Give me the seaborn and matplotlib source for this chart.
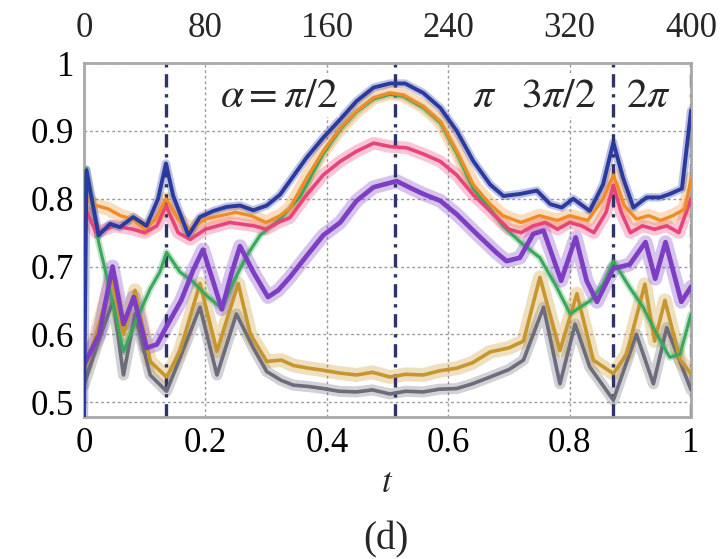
import matplotlib
matplotlib.use("Agg")
import matplotlib.pyplot as plt
import pandas as pd
import seaborn as sns

# ---- curve data (t in [0, 1]) ----
blue_t = [0.0, 0.004, 0.024, 0.043, 0.059, 0.081, 0.103, 0.122, 0.135, 0.147, 0.172, 0.191,
          0.213, 0.235, 0.257, 0.279, 0.301, 0.323, 0.339, 0.367, 0.394, 0.422, 0.449, 0.477,
          0.504, 0.529, 0.559, 0.587, 0.614, 0.641, 0.669, 0.691, 0.718, 0.746, 0.768, 0.787,
          0.806, 0.833, 0.855, 0.872, 0.888, 0.905, 0.927, 0.949, 0.965, 0.985, 1.0]
blue_v = [0.478, 0.842, 0.746, 0.763, 0.758, 0.773, 0.760, 0.800, 0.852, 0.804, 0.746, 0.773,
          0.782, 0.788, 0.790, 0.783, 0.790, 0.806, 0.826, 0.861, 0.890, 0.917, 0.944, 0.964,
          0.970, 0.970, 0.956, 0.934, 0.900, 0.856, 0.821, 0.804, 0.807, 0.812, 0.792, 0.787,
          0.800, 0.782, 0.821, 0.883, 0.831, 0.787, 0.802, 0.802, 0.807, 0.815, 0.930]

orange_t = [0.0, 0.005, 0.02, 0.04, 0.06, 0.08, 0.1, 0.118, 0.135, 0.155, 0.175, 0.2, 0.225,
            0.25, 0.275, 0.3, 0.323, 0.339, 0.367, 0.394, 0.422, 0.449, 0.477, 0.504, 0.526,
            0.559, 0.587, 0.614, 0.641, 0.669, 0.69, 0.72, 0.75, 0.78, 0.8, 0.83, 0.855, 0.872,
            0.89, 0.91, 0.93, 0.95, 0.97, 0.99, 1.0]
orange_v = [0.78, 0.80, 0.79, 0.785, 0.775, 0.77, 0.755, 0.77, 0.80, 0.77, 0.755, 0.77, 0.775,
            0.78, 0.775, 0.765, 0.775, 0.786, 0.831, 0.870, 0.904, 0.929, 0.949, 0.956, 0.953,
            0.936, 0.914, 0.870, 0.821, 0.792, 0.775, 0.765, 0.775, 0.768, 0.775, 0.768, 0.80,
            0.835, 0.79, 0.77, 0.775, 0.768, 0.775, 0.785, 0.83]

red_t = [0.0, 0.005, 0.02, 0.05, 0.08, 0.1, 0.12, 0.135, 0.155, 0.175, 0.2, 0.24, 0.28, 0.3,
         0.32, 0.339, 0.367, 0.394, 0.422, 0.449, 0.477, 0.504, 0.532, 0.559, 0.587, 0.614,
         0.641, 0.669, 0.686, 0.7, 0.72, 0.74, 0.76, 0.78, 0.8, 0.82, 0.84, 0.86, 0.872, 0.885,
         0.9, 0.92, 0.94, 0.96, 0.98, 1.0]
red_v = [0.76, 0.78, 0.75, 0.76, 0.755, 0.75, 0.76, 0.79, 0.75, 0.74, 0.755, 0.765, 0.76, 0.755,
         0.765, 0.772, 0.806, 0.835, 0.855, 0.870, 0.882, 0.877, 0.875, 0.866, 0.855, 0.835,
         0.806, 0.782, 0.767, 0.755, 0.75, 0.76, 0.765, 0.755, 0.765, 0.76, 0.75, 0.78, 0.82, 0.78,
         0.75, 0.76, 0.755, 0.76, 0.75, 0.80]

green_t = [0.0, 0.004, 0.024, 0.037, 0.048, 0.065, 0.087, 0.109, 0.125, 0.136, 0.158, 0.18,
           0.202, 0.227, 0.246, 0.268, 0.29, 0.323, 0.356, 0.394, 0.422, 0.449, 0.477, 0.504,
           0.526, 0.559, 0.587, 0.614, 0.641, 0.669, 0.69, 0.72, 0.751, 0.779, 0.801, 0.817,
           0.835, 0.855, 0.872, 0.899, 0.921, 0.943, 0.965, 0.982, 1.0]
green_v = [0.80, 0.845, 0.736, 0.687, 0.643, 0.574, 0.623, 0.667, 0.692, 0.721, 0.692, 0.677,
           0.657, 0.638, 0.677, 0.716, 0.746, 0.770, 0.803, 0.866, 0.902, 0.928, 0.947, 0.954,
           0.951, 0.934, 0.912, 0.867, 0.815, 0.785, 0.76, 0.735, 0.713, 0.669, 0.630, 0.640,
           0.650, 0.674, 0.708, 0.669, 0.640, 0.601, 0.566, 0.571, 0.630]

purple_t = [0.0, 0.025, 0.047, 0.065, 0.082, 0.103, 0.12, 0.135, 0.16, 0.18, 0.196, 0.212,
            0.227, 0.243, 0.257, 0.28, 0.303, 0.32, 0.339, 0.367, 0.394, 0.422, 0.449, 0.477,
            0.515, 0.54, 0.559, 0.587, 0.614, 0.647, 0.68, 0.696, 0.718, 0.74, 0.757, 0.786,
            0.81, 0.828, 0.845, 0.872, 0.899, 0.925, 0.941, 0.958, 0.984, 1.0]
purple_v = [0.555, 0.60, 0.70, 0.615, 0.655, 0.58, 0.585, 0.61, 0.65, 0.695, 0.725, 0.68,
            0.637, 0.69, 0.73, 0.69, 0.655, 0.665, 0.684, 0.716, 0.746, 0.765, 0.797, 0.817,
            0.826, 0.815, 0.807, 0.797, 0.777, 0.748, 0.72, 0.708, 0.713, 0.748, 0.753, 0.679,
            0.743, 0.679, 0.648, 0.697, 0.703, 0.736, 0.682, 0.736, 0.648, 0.67]

gold_t = [0.0, 0.02, 0.045, 0.065, 0.084, 0.109, 0.136, 0.158, 0.191, 0.219, 0.254, 0.274,
          0.301, 0.325, 0.345, 0.37, 0.394, 0.42, 0.449, 0.475, 0.504, 0.53, 0.559, 0.585,
          0.614, 0.64, 0.669, 0.7, 0.724, 0.751, 0.784, 0.812, 0.839, 0.872, 0.894, 0.924,
          0.94, 0.957, 0.982, 1.0]
gold_v = [0.545, 0.60, 0.68, 0.60, 0.665, 0.56, 0.537, 0.575, 0.675, 0.575, 0.675, 0.60,
          0.56, 0.562, 0.554, 0.55, 0.547, 0.543, 0.54, 0.544, 0.537, 0.541, 0.54, 0.546,
          0.55, 0.558, 0.574, 0.58, 0.59, 0.684, 0.576, 0.66, 0.562, 0.542, 0.571, 0.674,
          0.59, 0.65, 0.562, 0.542]

gray_t = [0.0, 0.02, 0.048, 0.065, 0.084, 0.109, 0.136, 0.158, 0.191, 0.219, 0.251, 0.279,
          0.301, 0.325, 0.345, 0.37, 0.394, 0.42, 0.449, 0.475, 0.504, 0.53, 0.559, 0.585,
          0.614, 0.64, 0.669, 0.7, 0.724, 0.757, 0.784, 0.809, 0.833, 0.872, 0.91, 0.938,
          0.96, 1.0]
gray_v = [0.525, 0.58, 0.65, 0.54, 0.63, 0.54, 0.516, 0.565, 0.64, 0.54, 0.63, 0.58,
          0.545, 0.532, 0.525, 0.523, 0.52, 0.516, 0.515, 0.518, 0.512, 0.516, 0.515, 0.519,
          0.52, 0.527, 0.537, 0.548, 0.562, 0.64, 0.527, 0.615, 0.552, 0.503, 0.60, 0.527,
          0.61, 0.518]

# drawing order, colour, core width, halo width
curves = [
    ("gray", gray_t, gray_v, "#6c6c7a", 2.6, 8),
    ("gold", gold_t, gold_v, "#c8962e", 2.6, 10),
    ("green", green_t, green_v, "#3aa85c", 2.2, 5),
    ("purple", purple_t, purple_v, "#7d3ec4", 3.4, 10),
    ("red", red_t, red_v, "#e8447a", 2.6, 9),
    ("orange", orange_t, orange_v, "#f08c28", 2.4, 10),
    ("blue", blue_t, blue_v, "#2b3a9e", 2.8, 6),
]

marker_t = [0.135, 0.513, 0.872, 1.0]
x_ticks = [0.0, 0.2, 0.4, 0.6, 0.8, 1.0]
x_labels = ["0", "0.2", "0.4", "0.6", "0.8", "1"]
y_ticks = [0.5, 0.6, 0.7, 0.8, 0.9, 1.0]
y_labels = ["0.5", "0.6", "0.7", "0.8", "0.9", "1"]
top_ticks = [0, 80, 160, 240, 320, 400]

sns.set_theme(style="white")
plt.rcParams["font.family"] = ["Liberation Serif", "DejaVu Serif"]
plt.rcParams["mathtext.fontset"] = "stix"
plt.rcParams["lines.solid_joinstyle"] = "round"
plt.rcParams["lines.solid_capstyle"] = "round"

fig = plt.figure(figsize=(7.23, 5.59), dpi=100)
ax = fig.add_axes([0.1162, 0.254, 0.8396, 0.633])

for name, t, v, color, lw, halo in curves:
    df = pd.DataFrame({"t": t, "v": v})
    sns.lineplot(data=df, x="t", y="v", ax=ax, color=color, lw=halo, alpha=0.3,
                 sort=False, estimator=None, zorder=2)
    sns.lineplot(data=df, x="t", y="v", ax=ax, color=color, lw=lw,
                 sort=False, estimator=None, zorder=3)

for xm in marker_t:
    ax.axvline(xm, color="#2e3566", lw=2.4, ls=(0, (4, 2, 1, 2)), zorder=2.5)

ax.set_xlim(0, 1)
ax.set_ylim(0.478, 1.0)
ax.set_xticks(x_ticks)
ax.set_xticklabels(x_labels)
ax.set_yticks(y_ticks)
ax.set_yticklabels(y_labels)
ax.grid(True, color="#9a9a9a", ls=(0, (2, 2)), lw=1.0)
ax.set_axisbelow(True)
ax.tick_params(direction="in", length=4, color="#8c8c8c", labelsize=25, pad=7,
               labelcolor="black")
for sp in ax.spines.values():
    sp.set_color("#a8a8a8")
    sp.set_linewidth(2)

sec = ax.secondary_xaxis("top", functions=(lambda x: x * 400, lambda x: x / 400))
sec.set_xticks(top_ticks)
sec.set_xticklabels([str(v) for v in top_ticks])
sec.tick_params(direction="in", length=0, labelsize=25, pad=13)
sec.spines["top"].set_visible(False)

ax.set_xlabel("$t$", fontsize=25, labelpad=5)
ax.set_ylabel("")

box = dict(facecolor="white", edgecolor="none", pad=1)
ax.text(0.224, 0.951, r"$\alpha=\pi/2$", fontsize=30, ha="left", va="center",
        bbox=box, zorder=4)
ax.text(0.639, 0.951, r"$\pi$", fontsize=30, ha="left", va="center", bbox=box, zorder=4)
ax.text(0.720, 0.951, r"$3\pi/2$", fontsize=30, ha="left", va="center", bbox=box, zorder=4)
ax.text(0.893, 0.951, r"$2\pi$", fontsize=30, ha="left", va="center", bbox=box, zorder=4)

fig.text(0.534, 0.034, "(d)", fontsize=28, ha="center", va="center")

fig.savefig("out.png", dpi=100)
